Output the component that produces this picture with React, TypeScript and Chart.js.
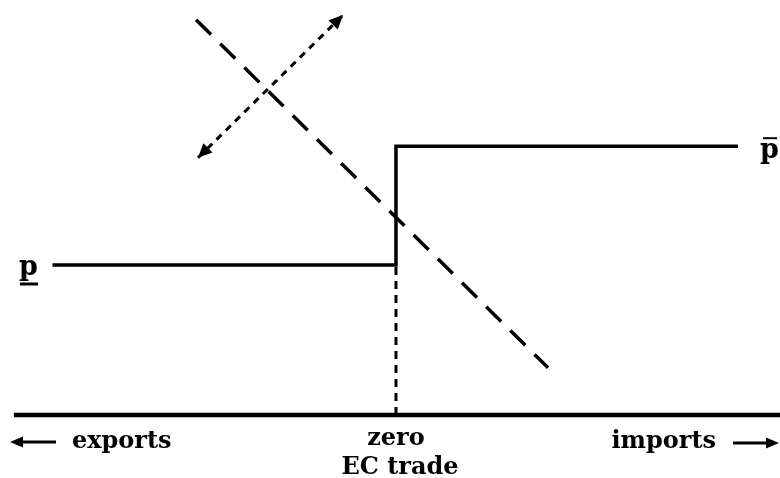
import React, { useEffect, useRef } from "react";
import { Chart, registerables } from "chart.js";

Chart.register(...registerables);

// ---- data (trade on x: negative = exports, positive = imports; price on y) ----
const axisX = [-9.9, 10.2];
const axisY = [0, 0];

const stepX = [-8.9, 0, 0, 8.86];
const stepY = [3.75, 3.75, 6.72, 6.72];

const dropX = [0, 0];
const dropY = [0, 3.75];

const demandX = [-5.18, 3.94];
const demandY = [9.88, 1.18];

const shiftX = [-5.13, -1.37];
const shiftY = [6.43, 10.0];

const priceLabels = ["p", "p"];
const tradeLabels = ["exports", "zero", "EC trade", "imports"];

const xRange = [-10.26, 9.95];
const yRange = [-1.575, 10.375];

const pts = (xs: number[], ys: number[]) => xs.map((x, i) => ({ x, y: ys[i] }));

const FONT = "bold 24px 'DejaVu Serif'";

function arrowHead(ctx: CanvasRenderingContext2D, x: number, y: number, fx: number, fy: number, len: number, half: number) {
  const a = Math.atan2(y - fy, x - fx);
  ctx.beginPath();
  ctx.moveTo(x, y);
  ctx.lineTo(x - len * Math.cos(a) + half * Math.sin(a), y - len * Math.sin(a) - half * Math.cos(a));
  ctx.lineTo(x - len * Math.cos(a) - half * Math.sin(a), y - len * Math.sin(a) + half * Math.cos(a));
  ctx.closePath();
  ctx.fill();
}

const decorations = {
  id: "decorations",
  afterDatasetsDraw(chart: any) {
    const ctx: CanvasRenderingContext2D = chart.ctx;
    const sx = chart.scales.x;
    const sy = chart.scales.y;
    ctx.save();
    ctx.fillStyle = "#000";
    ctx.strokeStyle = "#000";

    // arrowheads on the dotted shift line
    const x0 = sx.getPixelForValue(shiftX[0]);
    const y0 = sy.getPixelForValue(shiftY[0]);
    const x1 = sx.getPixelForValue(shiftX[1]);
    const y1 = sy.getPixelForValue(shiftY[1]);
    arrowHead(ctx, x0, y0, x1, y1, 14, 6.5);
    arrowHead(ctx, x1, y1, x0, y0, 14, 6.5);

    // price labels
    ctx.font = "bold 27px 'DejaVu Serif'";
    ctx.textBaseline = "alphabetic";
    ctx.textAlign = "left";
    const lowY = sy.getPixelForValue(stepY[0]);
    const highY = sy.getPixelForValue(stepY[3]);
    ctx.fillText(priceLabels[0], 19, lowY + 10);
    ctx.fillText(priceLabels[1], 760, highY + 12);
    ctx.lineWidth = 3;
    ctx.beginPath();
    ctx.moveTo(20, lowY + 19);
    ctx.lineTo(38, lowY + 19);
    ctx.stroke();
    ctx.lineWidth = 2;
    ctx.beginPath();
    ctx.moveTo(763, highY - 8);
    ctx.lineTo(777, highY - 8);
    ctx.stroke();

    // trade labels
    const baseY = sy.getPixelForValue(0);
    const zx = sx.getPixelForValue(0);
    ctx.font = FONT;
    ctx.textAlign = "left";
    ctx.fillText(tradeLabels[0], 72, baseY + 33);
    ctx.textAlign = "center";
    ctx.fillText(tradeLabels[1], zx, baseY + 30);
    ctx.fillText(tradeLabels[2], zx + 4, baseY + 59);
    ctx.textAlign = "right";
    ctx.fillText(tradeLabels[3], 716, baseY + 33);

    // direction arrows
    ctx.lineWidth = 3;
    ctx.beginPath();
    ctx.moveTo(56, baseY + 27);
    ctx.lineTo(18, baseY + 27);
    ctx.stroke();
    arrowHead(ctx, 10, baseY + 27, 56, baseY + 27, 13, 5.5);
    ctx.beginPath();
    ctx.moveTo(733, baseY + 28);
    ctx.lineTo(770, baseY + 28);
    ctx.stroke();
    arrowHead(ctx, 779, baseY + 28, 733, baseY + 28, 13, 5.5);

    ctx.restore();
  },
};

export default function App() {
  const ref = useRef<HTMLCanvasElement | null>(null);
  useEffect(() => {
    if (!ref.current) return;
    const chart = new Chart(ref.current, {
      type: "scatter",
      data: {
        datasets: [
          { data: pts(axisX, axisY), showLine: true, borderColor: "#000", borderWidth: 4.5, pointRadius: 0, clip: false } as any,
          { data: pts(stepX, stepY), showLine: true, borderColor: "#000", borderWidth: 3.5, pointRadius: 0, borderJoinStyle: "miter" } as any,
          { data: pts(dropX, dropY), showLine: true, borderColor: "#000", borderWidth: 3, borderDash: [8, 6], pointRadius: 0 } as any,
          { data: pts(demandX, demandY), showLine: true, borderColor: "#000", borderWidth: 3.5, borderDash: [21, 13], pointRadius: 0 } as any,
          { data: pts(shiftX, shiftY), showLine: true, borderColor: "#000", borderWidth: 3, borderDash: [7, 6], pointRadius: 0 } as any,
        ],
      },
      options: {
        responsive: false,
        animation: false,
        events: [],
        layout: { padding: 0 },
        plugins: { legend: { display: false }, tooltip: { enabled: false } },
        scales: {
          x: { type: "linear", min: xRange[0], max: xRange[1], display: false },
          y: { type: "linear", min: yRange[0], max: yRange[1], display: false },
        },
      },
      plugins: [decorations],
    });
    return () => chart.destroy();
  }, []);
  return (
    <div style={{ position: "fixed", left: 0, top: 0, width: 780, height: 478, background: "#fff" }}>
      <canvas ref={ref} width={780} height={478} />
    </div>
  );
}
